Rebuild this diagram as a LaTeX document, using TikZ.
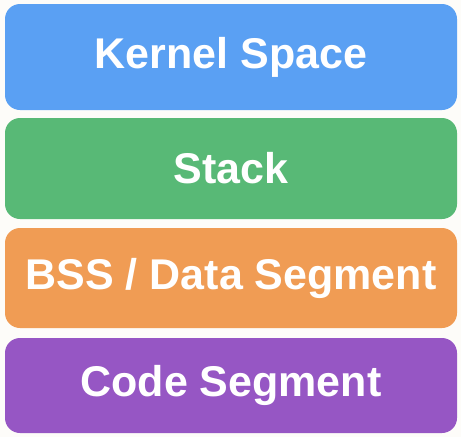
\documentclass[tikz,border=0pt]{standalone}
\usepackage{fontspec}
\setmainfont{Liberation Sans}
\usepackage{xcolor}
\definecolor{ColBg}{RGB}{253,252,249}
\definecolor{ColKernel}{RGB}{90,160,243}
\definecolor{ColStack}{RGB}{88,185,118}
\definecolor{ColData}{RGB}{240,156,84}
\definecolor{ColCode}{RGB}{150,86,196}
\usepackage{tikz}
\tikzstyle{Segment}=[rectangle,rounded corners=15pt,minimum width=452pt,
inner sep=0pt,text=white,font=\fontsize{43}{48}\selectfont\bfseries]

\begin{document}
\begin{tikzpicture}[x=1pt,y=-1pt]
        \fill[ColBg](0,0)rectangle(461,437);
        \useasboundingbox(0,0)rectangle(461,437);
        \node[Segment,fill=ColKernel,minimum height=106pt](kernel)at(231,57){Kernel Space};
        \node[Segment,fill=ColStack,minimum height=101pt](stack)at(231,168.5){Stack};
        \node[Segment,fill=ColData,minimum height=100pt](data)at(231,278){BSS / Data Segment};
        \node[Segment,fill=ColCode,minimum height=95pt](code)at(231,385.5){Code Segment};
    \end{tikzpicture}
\end{document}
